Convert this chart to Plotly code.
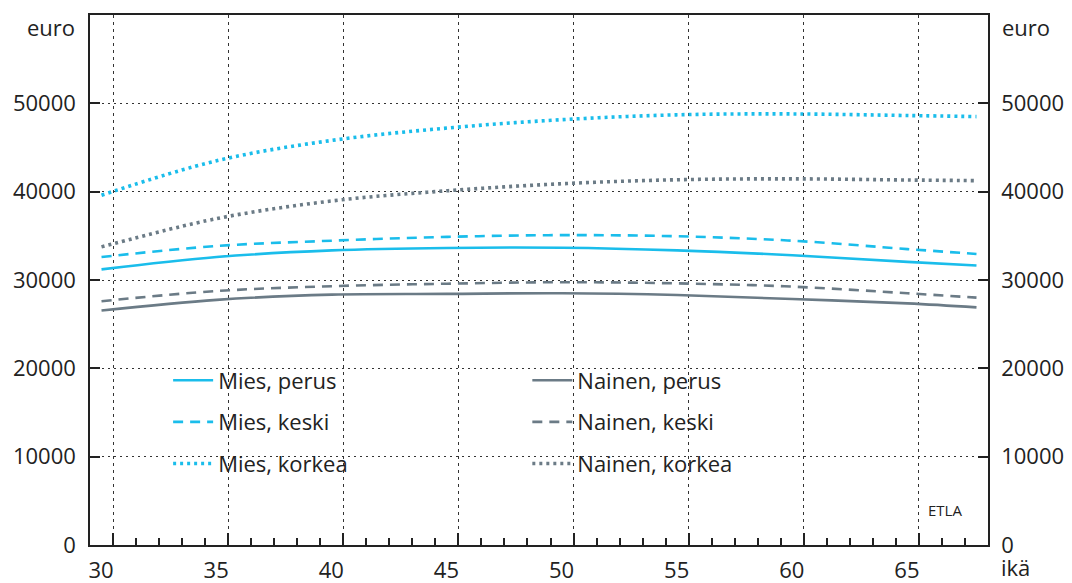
import plotly.graph_objects as go

ages = [30, 35, 40, 45, 50, 55, 60, 65, 68]
mies_perus = [31200, 32600, 33350, 33630, 33650, 33350, 32800, 32050, 31650]
mies_keski = [32600, 33850, 34450, 34880, 35080, 34950, 34450, 33500, 32950]
mies_korkea = [39600, 43500, 45800, 47200, 48150, 48700, 48800, 48620, 48500]
nainen_perus = [26550, 27750, 28350, 28430, 28500, 28300, 27850, 27350, 26900]
nainen_keski = [27600, 28750, 29300, 29580, 29750, 29620, 29250, 28500, 28000]
nainen_korkea = [33750, 36950, 38950, 40100, 40900, 41350, 41450, 41320, 41250]

x_tick_labels = ["30", "35", "40", "45", "50", "55", "60", "65"]
x_label_ages = [30, 35, 40, 45, 50, 55, 60, 65]
y_ticks = [0, 10000, 20000, 30000, 40000, 50000]
y_tick_labels = ["0", "10000", "20000", "30000", "40000", "50000"]

BLUE = "#1ABDEB"
GRAY = "#6B7B86"
AX = "#222222"
FONT = "Open Sans"

fig = go.Figure()

series = [
    ("Mies, perus", mies_perus, BLUE, "solid", 2.6, "legend", "g1"),
    ("Mies, keski", mies_keski, BLUE, "10px,7px", 2.6, "legend", "g2"),
    ("Mies, korkea", mies_korkea, BLUE, "3px,4px", 3.6, "legend", "g3"),
    ("Nainen, perus", nainen_perus, GRAY, "solid", 2.6, "legend2", "g4"),
    ("Nainen, keski", nainen_keski, GRAY, "10px,7px", 2.6, "legend2", "g5"),
    ("Nainen, korkea", nainen_korkea, GRAY, "3px,4px", 3.6, "legend2", "g6"),
]
for name, vals, col, dash, w, lg, grp in series:
    fig.add_trace(go.Scatter(
        x=ages, y=vals, name=name, mode="lines",
        line=dict(color=col, dash=dash, width=w, shape="spline", smoothing=1.0),
        legend=lg, legendgroup=grp,
    ))

# invisible trace for right axis
fig.add_trace(go.Scatter(x=[ages[0]], y=[0], yaxis="y2", mode="markers",
                         marker=dict(opacity=0), showlegend=False, hoverinfo="skip"))

fig.update_layout(
    width=1064, height=575,
    margin=dict(l=82, r=84, t=7, b=38, autoexpand=False),
    paper_bgcolor="white", plot_bgcolor="white",
    font=dict(family=FONT, size=22, color="#222222"),
    xaxis=dict(
        range=[29.5, 68.5], automargin=False,
        tickvals=[a + 0.5 for a in x_label_ages], ticktext=x_tick_labels,
        ticklabelshift=-12, ticklabelstandoff=5,
        ticks="inside", ticklen=12, tickwidth=1.5, tickcolor=AX,
        minor=dict(tickmode="linear", tick0=0.5, dtick=1, ticks="inside",
                   ticklen=7, tickwidth=1.5, tickcolor=AX, showgrid=False),
        showgrid=True, gridcolor="#333333", gridwidth=1, griddash="3px,4px",
        showline=True, linecolor=AX, linewidth=1.5, mirror=True,
        zeroline=False, tickfont=dict(size=22, family=FONT),
    ),
    yaxis=dict(
        range=[0, 60000], tickvals=y_ticks, ticktext=y_tick_labels,
        automargin=False,
        ticks="inside", ticklen=10, tickwidth=1.5, tickcolor=AX,
        ticklabelstandoff=8,
        showgrid=True, gridcolor="#333333", gridwidth=1, griddash="2px,4px",
        showline=True, linecolor=AX, linewidth=1.5,
        zeroline=False, tickfont=dict(size=22, family=FONT),
    ),
    yaxis2=dict(
        range=[0, 60000], tickvals=y_ticks, ticktext=y_tick_labels,
        overlaying="y", side="right", automargin=False,
        ticks="inside", ticklen=10, tickwidth=1.5, tickcolor=AX,
        ticklabelstandoff=7,
        showgrid=False, showline=True, linecolor=AX, linewidth=1.5,
        zeroline=False, tickfont=dict(size=22, family=FONT),
    ),
    legend=dict(
        x=0.087, y=0.35, xanchor="left", yanchor="top",
        bgcolor="rgba(0,0,0,0)", borderwidth=0,
        font=dict(size=22, family=FONT), tracegroupgap=10, itemwidth=40,
    ),
    legend2=dict(
        x=0.487, y=0.35, xanchor="left", yanchor="top",
        bgcolor="rgba(0,0,0,0)", borderwidth=0,
        font=dict(size=22, family=FONT), tracegroupgap=10, itemwidth=40,
    ),
    annotations=[
        dict(text="euro", xref="paper", yref="paper", x=-0.014, y=0.977,
             xanchor="right", yanchor="middle", showarrow=False,
             font=dict(size=22, family=FONT)),
        dict(text="euro", xref="paper", yref="paper", x=1.013, y=0.977,
             xanchor="left", yanchor="middle", showarrow=False,
             font=dict(size=22, family=FONT)),
        dict(text="ikä", xref="paper", yref="paper", x=1.012, y=-0.041,
             xanchor="left", yanchor="middle", showarrow=False,
             font=dict(size=22, family=FONT)),
        dict(text="ETLA", xref="paper", yref="paper", x=0.952, y=0.066,
             xanchor="center", yanchor="middle", showarrow=False,
             font=dict(size=15, family=FONT)),
    ],
)

fig.write_html("out.html")
